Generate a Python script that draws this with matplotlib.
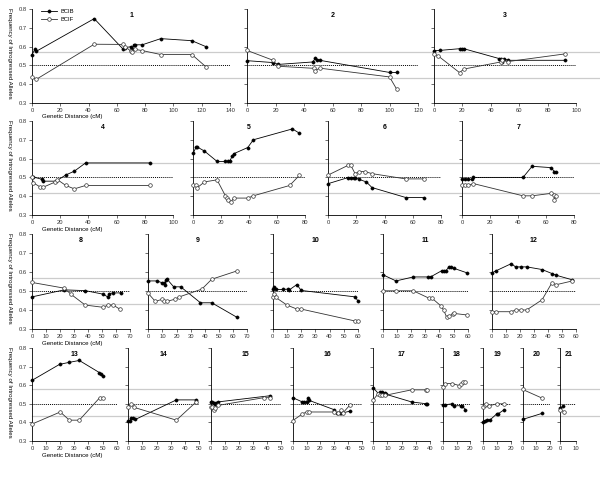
import matplotlib
matplotlib.use("Agg")
import matplotlib.pyplot as plt
import matplotlib.transforms as mtransforms
from matplotlib.lines import Line2D

plt.rcParams['font.family'] = ['Liberation Sans', 'DejaVu Sans']

# ---- data (position in cM, frequency) ----
c1_b_x = [0, 2, 3, 44, 64, 66, 70, 71, 72, 73, 78, 91, 113, 123]
c1_b_y = [0.557, 0.585, 0.575, 0.75, 0.59, 0.595, 0.60, 0.59, 0.61, 0.61, 0.61, 0.643, 0.632, 0.60]
c1_f_x = [0, 3, 44, 64, 66, 70, 71, 73, 78, 91, 113, 123]
c1_f_y = [0.438, 0.425, 0.613, 0.612, 0.60, 0.575, 0.57, 0.585, 0.579, 0.558, 0.558, 0.492]

c2_b_x = [0, 18, 22, 46, 48, 49, 51, 100, 105]
c2_b_y = [0.525, 0.515, 0.505, 0.518, 0.537, 0.53, 0.527, 0.462, 0.462]
c2_f_x = [0, 18, 22, 47, 48, 51, 100, 105]
c2_f_y = [0.58, 0.528, 0.495, 0.484, 0.472, 0.485, 0.438, 0.373]

c3_b_x = [0, 4, 18, 19.5, 21, 46, 47.5, 48, 49, 52, 92]
c3_b_y = [0.579, 0.58, 0.589, 0.59, 0.589, 0.536, 0.536, 0.517, 0.536, 0.527, 0.527]
c3_f_x = [0, 3, 18, 21, 47, 48, 52, 92]
c3_f_y = [0.561, 0.55, 0.461, 0.48, 0.518, 0.527, 0.52, 0.561]

c4_b_x = [1, 7, 8, 17, 24, 30, 38, 84]
c4_b_y = [0.502, 0.49, 0.48, 0.48, 0.513, 0.533, 0.577, 0.577]
c4_f_x = [0, 1, 6, 8, 16, 18, 24, 30, 38, 84]
c4_f_y = [0.50, 0.471, 0.448, 0.448, 0.474, 0.488, 0.457, 0.439, 0.457, 0.457]

c5_b_x = [0, 2, 3, 8, 17, 23, 24.5, 26, 28, 29, 39, 43, 71, 76]
c5_b_y = [0.63, 0.661, 0.661, 0.64, 0.585, 0.585, 0.585, 0.585, 0.615, 0.626, 0.659, 0.70, 0.758, 0.735]
c5_f_x = [0, 2, 3, 8, 17, 23, 24, 25, 27, 29, 39, 43, 69, 76]
c5_f_y = [0.457, 0.457, 0.446, 0.476, 0.487, 0.402, 0.392, 0.379, 0.37, 0.39, 0.39, 0.402, 0.457, 0.511]

c6_b_x = [0, 14, 16, 18, 19, 22, 27, 31, 55, 68]
c6_b_y = [0.467, 0.499, 0.499, 0.499, 0.499, 0.489, 0.476, 0.446, 0.393, 0.393]
c6_f_x = [0, 14, 16, 19, 22, 26, 31, 55, 68]
c6_f_y = [0.513, 0.564, 0.564, 0.52, 0.531, 0.531, 0.52, 0.492, 0.492]

c7_b_x = [0, 2, 4, 7, 8, 43.5, 50, 63.5, 66, 67]
c7_b_y = [0.49, 0.49, 0.49, 0.49, 0.50, 0.50, 0.559, 0.552, 0.531, 0.531]
c7_f_x = [0, 2, 4, 8, 43.5, 50, 63.5, 65.5, 66, 67]
c7_f_y = [0.457, 0.457, 0.457, 0.467, 0.402, 0.402, 0.415, 0.406, 0.379, 0.40]

c8_b_x = [0, 23, 38, 51, 54, 55, 58, 63.5]
c8_b_y = [0.469, 0.506, 0.502, 0.483, 0.469, 0.486, 0.49, 0.49]
c8_f_x = [0, 23, 28, 38, 51, 54, 58, 63]
c8_f_y = [0.545, 0.515, 0.482, 0.426, 0.414, 0.426, 0.426, 0.403]

c9_b_x = [0, 6, 10, 11, 12, 12.5, 13, 18, 23, 37, 45, 63]
c9_b_y = [0.553, 0.553, 0.543, 0.54, 0.533, 0.56, 0.565, 0.522, 0.522, 0.438, 0.438, 0.361]
c9_f_x = [0, 5, 10, 11, 13, 19, 22, 38, 45, 63]
c9_f_y = [0.487, 0.445, 0.457, 0.447, 0.445, 0.457, 0.469, 0.51, 0.562, 0.606]

c10_b_x = [0, 1, 2, 7, 11, 11.5, 17, 20, 58, 60]
c10_b_y = [0.508, 0.519, 0.508, 0.508, 0.51, 0.505, 0.534, 0.503, 0.469, 0.447]
c10_f_x = [0, 1, 2, 10, 17, 20, 58, 60]
c10_f_y = [0.469, 0.483, 0.467, 0.426, 0.405, 0.405, 0.342, 0.342]

c11_b_x = [0, 9.4, 21.6, 32, 34, 41.7, 43, 44.7, 46.8, 48, 50.4, 59.3]
c11_b_y = [0.586, 0.553, 0.574, 0.574, 0.575, 0.607, 0.607, 0.607, 0.628, 0.625, 0.619, 0.596]
c11_f_x = [0, 9.4, 21.6, 33, 35, 41, 43, 45.2, 47, 49.4, 50.3, 59.3]
c11_f_y = [0.501, 0.501, 0.501, 0.461, 0.461, 0.422, 0.40, 0.361, 0.368, 0.379, 0.382, 0.374]

c12_b_x = [0, 3, 14, 17, 21, 25, 36, 43, 46, 57]
c12_b_y = [0.595, 0.606, 0.644, 0.627, 0.627, 0.627, 0.613, 0.592, 0.583, 0.56]
c12_f_x = [0, 3, 14, 17, 21, 25, 36, 43, 46, 57]
c12_f_y = [0.391, 0.391, 0.391, 0.40, 0.40, 0.40, 0.454, 0.543, 0.533, 0.552]

c13_b_x = [0, 19.5, 26.5, 33.5, 47.7, 49, 50]
c13_b_y = [0.626, 0.712, 0.723, 0.733, 0.668, 0.66, 0.651]
c13_f_x = [0, 20, 26.5, 33.5, 48, 50]
c13_f_y = [0.391, 0.456, 0.412, 0.412, 0.533, 0.533]

c14_b_x = [0, 1, 2, 3, 5, 34, 48]
c14_b_y = [0.405, 0.41, 0.422, 0.425, 0.416, 0.521, 0.521]
c14_f_x = [0, 2, 4, 34, 48]
c14_f_y = [0.481, 0.50, 0.481, 0.412, 0.51]

c15_b_x = [0, 1, 2, 3, 4, 5, 42]
c15_b_y = [0.51, 0.51, 0.505, 0.50, 0.505, 0.51, 0.543]
c15_f_x = [0, 1, 2, 3, 5, 38, 42]
c15_f_y = [0.481, 0.485, 0.467, 0.475, 0.491, 0.533, 0.533]

c16_b_x = [0, 7, 8, 10, 11, 12, 30, 32, 34, 35, 41]
c16_b_y = [0.533, 0.51, 0.51, 0.51, 0.533, 0.518, 0.468, 0.449, 0.449, 0.449, 0.46]
c16_f_x = [0, 7, 10, 12, 30, 33, 35, 36, 41]
c16_f_y = [0.409, 0.446, 0.456, 0.456, 0.456, 0.449, 0.467, 0.449, 0.491]

c17_b_x = [0, 4, 5, 6, 8, 9, 27, 37.5, 38]
c17_b_y = [0.586, 0.551, 0.561, 0.565, 0.558, 0.551, 0.51, 0.50, 0.50]
c17_f_x = [0, 3, 5, 6, 8, 27, 37.5, 38]
c17_f_y = [0.521, 0.551, 0.546, 0.546, 0.545, 0.575, 0.575, 0.575]

c18_b_x = [0, 2, 7, 8, 13, 14, 16.5]
c18_b_y = [0.495, 0.495, 0.50, 0.489, 0.49, 0.49, 0.468]
c18_f_x = [0, 2, 7, 12, 13, 14.5, 16.5]
c18_f_y = [0.593, 0.609, 0.609, 0.598, 0.605, 0.619, 0.619]

c19_b_x = [0, 1, 3, 5, 10, 11, 15]
c19_b_y = [0.402, 0.41, 0.414, 0.414, 0.447, 0.447, 0.467]
c19_f_x = [0, 1, 2, 4, 10, 15]
c19_f_y = [0.481, 0.495, 0.50, 0.489, 0.50, 0.50]

c20_b_x = [0, 14.5]
c20_b_y = [0.416, 0.449]
c20_f_x = [0, 14.5]
c20_f_y = [0.577, 0.53]

c21_b_x = [0, 2]
c21_b_y = [0.477, 0.489]
c21_f_x = [0, 2.5]
c21_f_y = [0.467, 0.458]

bcib_x = [c1_b_x, c2_b_x, c3_b_x, c4_b_x, c5_b_x, c6_b_x, c7_b_x, c8_b_x, c9_b_x, c10_b_x, c11_b_x,
          c12_b_x, c13_b_x, c14_b_x, c15_b_x, c16_b_x, c17_b_x, c18_b_x, c19_b_x, c20_b_x, c21_b_x]
bcib_y = [c1_b_y, c2_b_y, c3_b_y, c4_b_y, c5_b_y, c6_b_y, c7_b_y, c8_b_y, c9_b_y, c10_b_y, c11_b_y,
          c12_b_y, c13_b_y, c14_b_y, c15_b_y, c16_b_y, c17_b_y, c18_b_y, c19_b_y, c20_b_y, c21_b_y]
bcif_x = [c1_f_x, c2_f_x, c3_f_x, c4_f_x, c5_f_x, c6_f_x, c7_f_x, c8_f_x, c9_f_x, c10_f_x, c11_f_x,
          c12_f_x, c13_f_x, c14_f_x, c15_f_x, c16_f_x, c17_f_x, c18_f_x, c19_f_x, c20_f_x, c21_f_x]
bcif_y = [c1_f_y, c2_f_y, c3_f_y, c4_f_y, c5_f_y, c6_f_y, c7_f_y, c8_f_y, c9_f_y, c10_f_y, c11_f_y,
          c12_f_y, c13_f_y, c14_f_y, c15_f_y, c16_f_y, c17_f_y, c18_f_y, c19_f_y, c20_f_y, c21_f_y]

# axis length of each chromosome (cM) and x tick step
x_max = [140, 120, 100, 100, 80, 80, 80, 70, 70, 60, 60, 60, 60, 50, 50, 50, 40, 20, 20, 20, 10]
x_step = [20, 20, 20, 20, 20, 20, 20, 10, 10, 10, 10, 10, 10, 10, 10, 10, 10, 10, 10, 10, 10]
row_of = [0, 0, 0, 1, 1, 1, 1, 2, 2, 2, 2, 2, 3, 3, 3, 3, 3, 3, 3, 3, 3]
# gray threshold lines for each row
upper_thr = [0.573, 0.578, 0.567, 0.578]
lower_thr = [0.434, 0.417, 0.43, 0.434]

# layout in pixels (600x480 figure)
px_left = [32, 247, 434, 32, 193.3, 328.3, 462.3, 32, 148.3, 272.7, 382.7, 491.7,
           32, 128.3, 210.7, 292.7, 373.3, 442.7, 483.3, 522.7, 560.3]
px_right = [230, 418, 576, 173, 305, 441, 574, 130, 247, 358, 467.7, 575.7,
            116.7, 199, 280.7, 362, 430, 470.3, 510.7, 549.7, 576]
row_top = [9.3, 121, 234, 348]
row_bot = [102.7, 215, 329, 441]

W, H = 600, 480
fig = plt.figure(figsize=(6, 4.8), dpi=100)

first_ax = {}
for i in range(21):
    r = row_of[i]
    rect = [px_left[i] / W, 1 - row_bot[r] / H,
            (px_right[i] - px_left[i]) / W, (row_bot[r] - row_top[r]) / H]
    ax = fig.add_axes(rect)
    ax.set_xlim(0, x_max[i])
    ax.set_ylim(0.3, 0.8)
    ax.set_xticks(range(0, x_max[i] + 1, x_step[i]))
    ax.set_yticks([0.3, 0.4, 0.5, 0.6, 0.7, 0.8])
    for s in ['top', 'right']:
        ax.spines[s].set_visible(False)
    for s in ['left', 'bottom']:
        ax.spines[s].set_linewidth(0.6)
    ax.tick_params(labelsize=4.2, length=2, width=0.5, pad=1.5, colors='#333333')
    if r not in first_ax:
        first_ax[r] = ax
        ax.set_yticklabels(['0.3', '0.4', '0.5', '0.6', '0.7', '0.8'])
    else:
        ax.set_yticklabels([])
    ax.set_facecolor('none')
    ax.axhline(0.5, color='k', lw=0.7, ls=(0, (1, 1)), zorder=1)
    ax.plot(bcib_x[i], bcib_y[i], '-o', color='k', lw=0.6, ms=2.3,
            mfc='k', mec='k', mew=0.4, zorder=3, clip_on=False, label='BCIB')
    ax.plot(bcif_x[i], bcif_y[i], '-o', color='#333333', lw=0.6, ms=2.6,
            mfc='white', mec='#333333', mew=0.5, zorder=3, clip_on=False, label='BCIF')
    ax.text(x_max[i] / 2, 0.765, str(i + 1), ha='center', va='center',
            fontsize=5, fontweight='bold')
    if i == 0:
        ax.legend(loc='upper left', bbox_to_anchor=(0.03, 1.04), frameon=False,
                  fontsize=4.2, handlelength=2.6, handletextpad=0.6,
                  borderpad=0.1, labelspacing=0.4)

# gray lines across each row, axis text
for r in range(4):
    ax = first_ax[r]
    tr = mtransforms.blended_transform_factory(fig.transFigure, ax.transData)
    for v in (upper_thr[r], lower_thr[r]):
        fig.add_artist(Line2D([32 / W, 1.0], [v, v], transform=tr,
                              color='#cccccc', lw=0.9, zorder=0))
    fig.text(9 / W, 1 - (row_top[r] - 1) / H, 'Frequency of Introgressed Alleles',
             rotation=270, ha='center', va='top', fontsize=4.4)
    fig.text(72 / W, 1 - (row_bot[r] + 14) / H, 'Genetic Distance (cM)',
             ha='center', va='center', fontsize=4.4)

fig.savefig('out.png', dpi=100)
